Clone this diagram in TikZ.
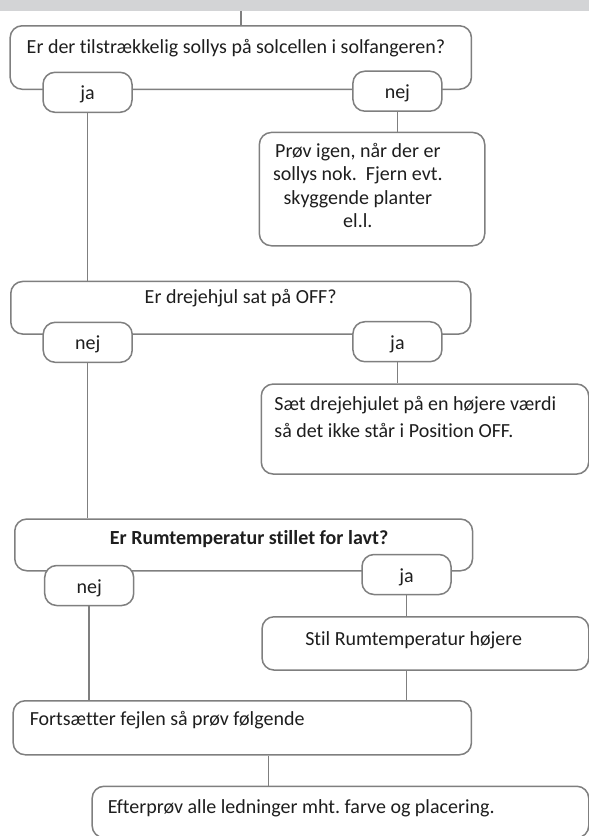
\documentclass[tikz,border=0pt]{standalone}
\usepackage{fontspec}
\setmainfont{Carlito}[Ligatures=NoCommon]
\frenchspacing
\definecolor{edgegray}{HTML}{7F7F7F}
\definecolor{bargray}{HTML}{D3D4D6}
\definecolor{inkblack}{HTML}{1E1E1E}
\begin{document}
\begin{tikzpicture}[x=1pt, y=-1pt, font=\fontsize{20}{24}\selectfont,
  box/.style={draw=edgegray, line width=1.5pt, rounded corners=12pt, fill=white, text=inkblack, inner sep=0pt, anchor=north west},
  answer/.style={draw=edgegray, line width=1.5pt, rounded corners=12pt, fill=white, text=inkblack, inner sep=0pt,
    minimum width=89pt, minimum height=40pt, text height=15pt, text depth=0pt},
  link/.style={draw=edgegray, line width=1.5pt}]
\useasboundingbox (0,0) rectangle (589,836);
\node[fill=bargray, inner sep=0pt, minimum width=589pt, minimum height=10.5pt, anchor=north west] (bar) at (0,0) {};

% questions
\node[box, text height=27.3pt, text depth=36.2pt] (q1) at (9.4,25) {\makebox[461.3pt][l]{\hspace*{16.6pt}Er der tilstrækkelig sollys på solcellen i solfangeren?}};
\node[box, text height=25pt, text depth=88.3pt] (proev) at (258.6,131.7) {\makebox[225.4pt][l]{\parbox[t]{197pt}{\centering\baselineskip=23.3pt Prøv igen, når der er\\ sollys nok.\ \ Fjern evt.\\ skyggende planter\\ el.l.}}};
\node[box, text height=22.3pt, text depth=30.3pt] (q2) at (10,280.7) {\makebox[460pt]{Er drejehjul sat på OFF?}};
\node[box, text height=26.7pt, text depth=63.3pt] (set) at (260.5,383.3) {\makebox[327.5pt][l]{\hspace*{13.2pt}\parbox[t]{310pt}{\raggedright\baselineskip=26.7pt Sæt drejehjulet på en højere værdi\\ så det ikke står i Position OFF.}}};
\node[box, text height=25pt, text depth=26.7pt] (q3) at (14,518.3) {\makebox[457.8pt]{\hspace*{11pt}\bfseries Er Rumtemperatur stillet for lavt?}};
\node[box, text height=29pt, text depth=24.3pt] (stil) at (261.3,616) {\makebox[326.7pt][l]{\hspace*{43.2pt}Stil Rumtemperatur højere}};
\node[box, text height=25pt, text depth=29pt] (fort) at (12.4,700) {\makebox[458.3pt][l]{\hspace*{16.6pt}Fortsætter fejlen så prøv følgende}};
\node[box, text height=27.5pt, text depth=24pt] (efter) at (91.4,785.5) {\makebox[496.6pt][l]{\hspace*{15.6pt}Efterprøv alle ledninger mht. farve og placering.}};

% answers
\node[answer] (ja1) at (87.5,92.3) {ja};
\node[answer] (nej1) at (397.4,91.2) {nej};
\node[answer] (nej2) at (87.7,342.3) {nej};
\node[answer] (ja2) at (397.4,341.7) {ja};
\node[answer] (nej3) at (89.2,585.5) {nej};
\node[answer] (ja3) at (406.5,574.5) {ja};

% links
\draw[link] (bar.south -| q1.north) -- (q1.north);
\draw[link] (ja1) -- (ja1 |- q2.north);
\draw[link] (nej1) -- (nej1 |- proev.north);
\draw[link] (nej2) -- (nej2 |- q3.north);
\draw[link] (ja2) -- (ja2 |- set.north);
\draw[link] (nej3) -- (nej3 |- fort.north);
\draw[link] (ja3) -- (ja3 |- stil.north);
\draw[link] (ja3 |- stil.south) -- (ja3 |- fort.north);
\draw[link] ([xshift=26pt]fort.south) -- ([xshift=26pt]fort.south |- efter.north);
\end{tikzpicture}
\end{document}
